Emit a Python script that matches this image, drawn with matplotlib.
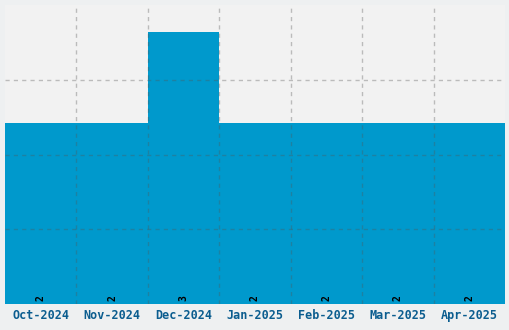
import numpy as np
import matplotlib
matplotlib.use("Agg")
import matplotlib.pyplot as plt

months = ["Oct-2024", "Nov-2024", "Dec-2024", "Jan-2025", "Feb-2025", "Mar-2025", "Apr-2025"]
counts = [2, 2, 3, 2, 2, 2, 2]

bar_color = "#0099cc"
label_color = "#0b5d8f"

fig = plt.figure(figsize=(5.1, 3.3), dpi=100, facecolor="#eef0f1")
ax = fig.add_axes([5 / 510, 26 / 330, 500 / 510, 299 / 330])
ax.set_facecolor("#f2f2f2")

x = np.arange(len(months))
ax.bar(x, counts, width=1.0, color=bar_color, zorder=1)

for xi, c in zip(x, counts):
    ax.annotate(str(c), (xi, 0), xytext=(0, 2.5), textcoords="offset points",
                ha="center", va="bottom", rotation=90, fontsize=7,
                family="DejaVu Sans Mono", fontweight="bold", color="black", zorder=3)

ax.set_xlim(-0.5, len(months) - 0.5)
ax.set_ylim(0, 3.3)
ax.set_xticks(x)
ax.set_xticklabels(months, family="DejaVu Sans Mono", fontweight="bold",
                   fontsize=8.5, color=label_color)
ax.set_xticks(x[:-1] + 0.5, minor=True)
ax.set_yticks(np.linspace(0, 3.3, 5)[1:-1])
ax.set_yticklabels([])
ax.tick_params(axis="both", which="both", length=0)
ax.tick_params(axis="x", pad=3.5)

ax.grid(axis="x", which="minor", color="#555555", alpha=0.35, linestyle=(0, (3, 3)), linewidth=1, zorder=2)
ax.grid(axis="y", which="major", color="#555555", alpha=0.35, linestyle=(0, (3, 3)), linewidth=1, zorder=2)
ax.set_axisbelow(False)
for s in ax.spines.values():
    s.set_visible(False)

fig.savefig("out.png", dpi=100, facecolor=fig.get_facecolor())
